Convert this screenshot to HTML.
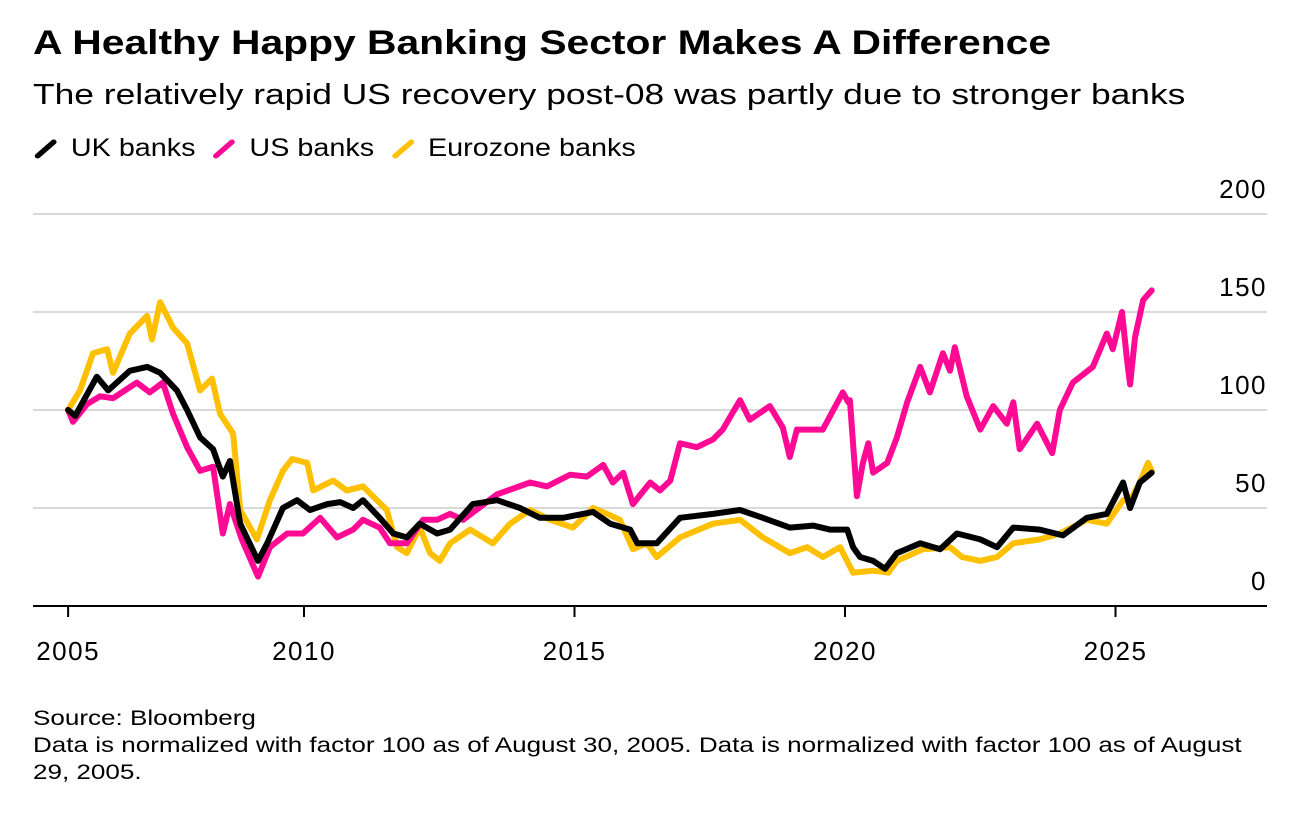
<!DOCTYPE html>
<html><head><meta charset="utf-8">
<style>
body{margin:0;background:#fff;font-family:"Liberation Sans",Arial,sans-serif;color:#000;}
#wrap{position:relative;width:1290px;height:816px;overflow:hidden;}
.t{position:absolute;white-space:nowrap;transform-origin:0 0;}
</style></head><body>
<div id="wrap">
<div class="t" style="left:33px;top:24px;font-size:34px;font-weight:bold;transform:scaleX(1.2);">A Healthy Happy Banking Sector Makes A Difference</div>
<div class="t" style="left:33px;top:79px;font-size:29px;transform:scaleX(1.22);">The relatively rapid US recovery post-08 was partly due to stronger banks</div>
<div class="t" style="left:33px;top:134px;font-size:25px;transform:scaleX(1.15);">
<span><svg width="26" height="22" style="vertical-align:-3px"><line x1="4" y1="19" x2="18" y2="5" stroke="#000" stroke-width="5" stroke-linecap="round"/></svg> UK banks</span>&nbsp;
<span><svg width="26" height="22" style="vertical-align:-3px"><line x1="4" y1="19" x2="18" y2="5" stroke="#ff0a94" stroke-width="5" stroke-linecap="round"/></svg> US banks</span>&nbsp;
<span><svg width="26" height="22" style="vertical-align:-3px"><line x1="4" y1="19" x2="18" y2="5" stroke="#ffc000" stroke-width="5" stroke-linecap="round"/></svg> Eurozone banks</span>
</div>
<svg id="chart" width="1290" height="816" style="position:absolute;left:0;top:0;font-family:'Liberation Sans',Arial,sans-serif;"></svg>
<div class="t" style="left:33px;top:705px;font-size:21px;line-height:27px;transform:scaleX(1.24);">Source: Bloomberg<br>Data is normalized with factor 100 as of August 30, 2005. Data is normalized with factor 100 as of August<br>29, 2005.</div>
</div>
<script>
const yTicks=[0,50,100,150,200];
const xTickYears=[2005.64,2010,2015,2020,2025];
const xTickLabels=["2005","2010","2015","2020","2025"];
const ukYears=[2005.64,2005.77,2006.17,2006.38,2006.78,2007.10,2007.34,2007.65,2007.84,2008.08,2008.32,2008.50,2008.63,2008.82,2009.15,2009.32,2009.61,2009.87,2010.11,2010.43,2010.67,2010.91,2011.09,2011.40,2011.65,2011.90,2012.14,2012.46,2012.70,2013.12,2013.57,2013.99,2014.36,2014.79,2015.34,2015.66,2016.03,2016.16,2016.52,2016.95,2017.56,2018.06,2018.48,2018.98,2019.41,2019.72,2020.04,2020.15,2020.28,2020.52,2020.74,2020.96,2021.39,2021.76,2022.07,2022.50,2022.81,2023.11,2023.60,2024.03,2024.47,2024.84,2025.14,2025.27,2025.45,2025.67];
const ukValues=[100,97,117,110,120,122,119,110,100,86,80,66,74,42,23,32,50,54,49,52,53,50,54,45,37,35,42,37,39,52,54,50,45,45,48,42,39,32,32,45,47,49,45,40,41,39,39,30,25,23,19,27,32,29,37,34,30,40,39,36,45,47,63,50,63,68];
const usYears=[2005.64,2005.73,2005.99,2006.23,2006.47,2006.91,2007.15,2007.39,2007.58,2007.84,2008.08,2008.32,2008.50,2008.63,2008.85,2009.15,2009.37,2009.69,2009.98,2010.30,2010.61,2010.91,2011.09,2011.40,2011.59,2011.90,2012.20,2012.46,2012.70,2012.94,2013.57,2014.18,2014.49,2014.92,2015.23,2015.53,2015.71,2015.90,2016.08,2016.40,2016.58,2016.77,2016.95,2017.26,2017.56,2017.74,2018.06,2018.24,2018.61,2018.85,2018.98,2019.11,2019.59,2019.96,2020.06,2020.09,2020.22,2020.33,2020.43,2020.52,2020.78,2020.96,2021.15,2021.39,2021.57,2021.81,2021.94,2022.03,2022.25,2022.50,2022.74,2022.99,2023.11,2023.23,2023.55,2023.83,2023.97,2024.21,2024.58,2024.84,2024.95,2025.12,2025.21,2025.27,2025.36,2025.51,2025.67];
const usValues=[100,94,103,107,106,114,109,114,98,81,69,71,37,52,34,15,30,37,37,45,35,39,44,40,32,32,44,44,47,44,57,63,61,67,66,72,63,68,52,63,59,64,83,81,85,90,105,95,102,91,76,90,90,109,104,105,56,73,83,68,73,86,104,122,109,129,120,132,107,90,102,93,104,80,93,78,100,114,122,139,131,150,126,113,137,156,161];
const euYears=[2005.64,2005.86,2006.10,2006.36,2006.47,2006.78,2007.10,2007.19,2007.34,2007.58,2007.84,2008.08,2008.30,2008.45,2008.69,2008.82,2009.13,2009.37,2009.61,2009.78,2010.06,2010.17,2010.54,2010.79,2011.09,2011.53,2011.72,2011.90,2012.14,2012.33,2012.51,2012.70,2013.07,2013.49,2013.81,2014.18,2014.55,2014.97,2015.34,2015.60,2015.84,2016.08,2016.34,2016.52,2016.95,2017.56,2018.06,2018.48,2018.98,2019.30,2019.59,2019.91,2020.15,2020.52,2020.80,2020.96,2021.44,2021.94,2022.16,2022.50,2022.81,2023.11,2023.60,2023.97,2024.47,2024.84,2025.14,2025.31,2025.45,2025.60,2025.67];
const euValues=[100,110,129,131,119,139,148,136,155,142,134,110,116,98,88,49,34,54,69,75,73,59,64,59,61,49,30,27,40,27,23,32,39,32,42,49,44,40,50,47,44,29,32,25,35,42,44,35,27,30,25,30,17,18,17,23,29,30,25,23,25,32,34,37,44,42,54,56,63,73,69];

const NS="http://www.w3.org/2000/svg";
const svg=document.getElementById('chart');
const X0=304,PX_PER_YEAR=54.1,Y0=606,PX_PER_UNIT=1.96;
function xs(yr){return X0+(yr-2010)*PX_PER_YEAR;}
function ys(v){return Y0-v*PX_PER_UNIT;}
function mk(tag,attrs){const e=document.createElementNS(NS,tag);for(const k in attrs)e.setAttribute(k,attrs[k]);svg.appendChild(e);return e;}

yTicks.forEach(v=>{
  if(v>0){
    const g=mk('line',{x1:33,x2:1267,y1:ys(v),y2:ys(v),stroke:'#d9d9d9','stroke-width':2});
    
    
  }
  const t=mk('text',{x:1267,y:ys(v)-16,'text-anchor':'end','font-size':26,'letter-spacing':1.5,fill:'#000'});
  t.textContent=String(v);
  
  
});
const ax=mk('line',{x1:33,x2:1267,y1:Y0,y2:Y0,stroke:'#000','stroke-width':2});


xTickYears.forEach((yr,i)=>{
  const tk=mk('line',{x1:xs(yr),x2:xs(yr),y1:Y0,y2:Y0+11,stroke:'#000','stroke-width':2});
  
  
  const t=mk('text',{x:xs(yr),y:Y0+54,'text-anchor':'middle','font-size':26,'letter-spacing':1.5,fill:'#000'});
  t.textContent=xTickLabels[i];
  
  
});
function drawLine(years,vals,color,name){
  const d=years.map((yr,i)=>(i?'L':'M')+xs(yr).toFixed(1)+' '+ys(vals[i]).toFixed(1)).join(' ');
  const p=mk('path',{d:d,fill:'none',stroke:color,'stroke-width':6,'stroke-linejoin':'round','stroke-linecap':'round'});
  
  
}
drawLine(euYears,euValues,'#ffc000','eurozone-banks-line');
drawLine(usYears,usValues,'#ff0a94','us-banks-line');
drawLine(ukYears,ukValues,'#000000','uk-banks-line');
</script>
</body></html>
